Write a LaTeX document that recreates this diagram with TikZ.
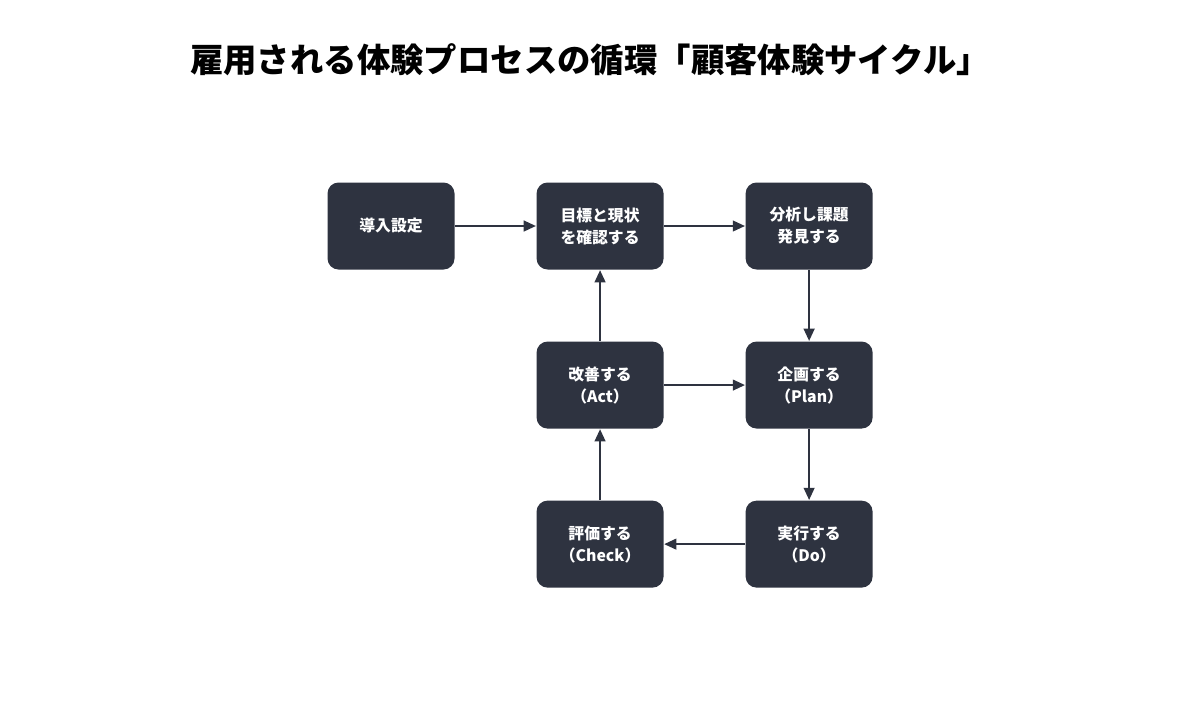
\documentclass[tikz,border=0pt]{standalone}
\usepackage{fontspec}
\setmainfont{Noto Sans CJK JP}
\usetikzlibrary{positioning,arrows.meta}
\definecolor{boxdark}{HTML}{2E3340}

\begin{document}
\begin{tikzpicture}[
    > = {Triangle[length=7pt,width=6pt]},
    node distance = 1.42cm and 1.62cm,
    semithick,
    stage/.style={rectangle, rounded corners=0.22cm, fill=boxdark, text=white,
        minimum width=2.54cm, minimum height=1.74cm, align=center,
        font=\bfseries\fontsize{9}{12.5}\selectfont},
    flow/.style={->, draw=boxdark, line width=1.4pt}
]
    \useasboundingbox (0,0) rectangle (24,-14.16);
    \node[font=\bfseries\fontsize{19}{22}\selectfont] (title) at (11.8,-1.2)
        {雇用される体験プロセスの循環「顧客体験サイクル」};

    \node[stage] (setup) at (7.82,-4.52) {導入設定};
    \node[stage, right=of setup] (goal) {目標と現状\\を確認する};
    \node[stage, right=of goal] (analyze) {分析し課題\\発見する};
    \node[stage, below=of analyze] (plan) {企画する\\（Plan）};
    \node[stage, below=of plan] (do) {実行する\\（Do）};
    \node[stage, below=of goal] (act) {改善する\\（Act）};
    \node[stage, below=of act] (check) {評価する\\（Check）};

    \draw[flow] (setup) -- (goal);
    \draw[flow] (goal) -- (analyze);
    \draw[flow] (analyze) -- (plan);
    \draw[flow] (plan) -- (do);
    \draw[flow] (do) -- (check);
    \draw[flow] (check) -- (act);
    \draw[flow] (act) -- (plan);
    \draw[flow] (act) -- (goal);
\end{tikzpicture}
\end{document}
